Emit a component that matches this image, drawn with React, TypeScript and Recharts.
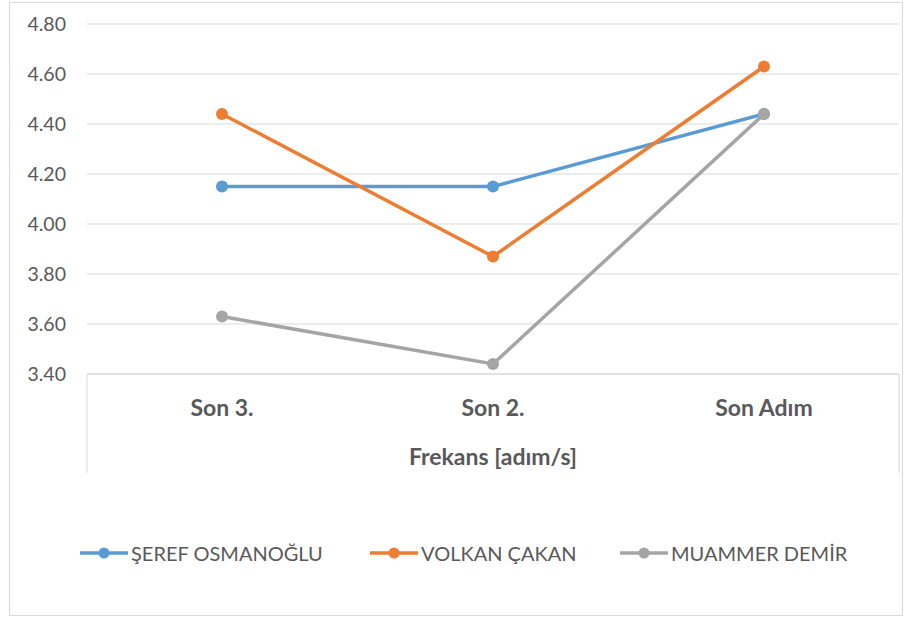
import React from "react";
import {
  LineChart,
  Line,
  XAxis,
  YAxis,
  CartesianGrid,
  Legend,
} from "recharts";

const categories = ["Son 3.", "Son 2.", "Son Adım"];
const seref = [4.15, 4.15, 4.44];
const volkan = [4.44, 3.87, 4.63];
const muammer = [3.63, 3.44, 4.44];
const yTicks = [3.4, 3.6, 3.8, 4.0, 4.2, 4.4, 4.6, 4.8];
const axisTitle = "Frekans [adım/s]";

const series = [
  { key: "seref", name: "ŞEREF OSMANOĞLU", color: "#5B9BD5" },
  { key: "volkan", name: "VOLKAN ÇAKAN", color: "#ED7D31" },
  { key: "muammer", name: "MUAMMER DEMİR", color: "#A5A5A5" },
];

const data = categories.map((cat, i) => ({
  cat,
  seref: seref[i],
  volkan: volkan[i],
  muammer: muammer[i],
}));

const FONT = "Lato, 'Open Sans', sans-serif";
const TEXT = "#595959";
const GRID = "#D9D9D9";
const HALF_BAND = 135;
const BOX_H = 99;
const LEGEND_ITEM_W = [290, 250, 240];

function CatTick(props: any) {
  const { x, y, payload, index, visibleTicksCount } = props;
  return (
    <g>
      <text
        x={x}
        y={y + 33}
        textAnchor="middle"
        dominantBaseline="central"
        fill={TEXT}
        fontSize={23}
        fontWeight="bold"
        fontFamily={FONT}
      >
        {payload.value}
      </text>
      {index === 0 && (
        <line x1={x - HALF_BAND} y1={y} x2={x - HALF_BAND} y2={y + BOX_H} stroke={GRID} />
      )}
      {index === visibleTicksCount - 1 && (
        <line x1={x + HALF_BAND} y1={y} x2={x + HALF_BAND} y2={y + BOX_H} stroke={GRID} />
      )}
    </g>
  );
}

function LegendContent(props: any) {
  const { payload } = props;
  const ordered = series
    .map((s) => payload.find((p: any) => p.dataKey === s.key))
    .filter(Boolean);
  return (
    <div style={{ display: "flex", paddingLeft: 80, height: 30, alignItems: "center" }}>
      {ordered.map((item: any, i: number) => (
        <div
          key={item.value}
          style={{ display: "flex", alignItems: "center", width: LEGEND_ITEM_W[i] }}
        >
          <svg width={48} height={14}>
            <line x1={0} y1={7} x2={48} y2={7} stroke={item.color} strokeWidth={3.5} />
            <circle cx={24} cy={7} r={5.5} fill={item.color} />
          </svg>
          <span
            style={{
              marginLeft: 3,
              fontFamily: FONT,
              fontSize: 20,
              color: TEXT,
            }}
          >
            {item.value}
          </span>
        </div>
      ))}
    </div>
  );
}

export default function App() {
  return (
    <div
      style={{
        position: "absolute",
        left: 0,
        top: 0,
        width: 907,
        height: 621,
        background: "#fff",
      }}
    >
      <div
        style={{
          position: "absolute",
          left: 9,
          top: 2,
          width: 892,
          height: 612,
          border: "1px solid #D9D9D9",
        }}
      />
      <LineChart
        width={907}
        height={621}
        data={data}
        margin={{ top: 24, right: 8, left: 0, bottom: 53 }}
      >
        <CartesianGrid vertical={false} stroke={GRID} />
        <XAxis
          dataKey="cat"
          padding={{ left: HALF_BAND, right: HALF_BAND }}
          height={100}
          interval={0}
          axisLine={{ stroke: GRID }}
          tickLine={false}
          tickSize={0}
          tickMargin={0}
          tick={<CatTick />}
          label={{
            value: axisTitle,
            position: "insideBottom",
            offset: 9,
            fill: TEXT,
            fontSize: 23,
            fontWeight: "bold",
            fontFamily: FONT,
          }}
        />
        <YAxis
          domain={[3.4, 4.8]}
          ticks={yTicks}
          tickFormatter={(v: number) => v.toFixed(2)}
          width={87}
          axisLine={false}
          tickLine={false}
          tickSize={0}
          tickMargin={21}
          tick={{ fill: TEXT, fontSize: 19.5, fontFamily: FONT }}
        />
        <Legend
          verticalAlign="bottom"
          align="left"
          content={<LegendContent />}
          wrapperStyle={{ paddingTop: 64 }}
        />
        {series.map((s) => (
          <Line
            key={s.key}
            dataKey={s.key}
            name={s.name}
            stroke={s.color}
            strokeWidth={3.5}
            dot={{ r: 6, fill: s.color, stroke: s.color, strokeWidth: 0 }}
            activeDot={false}
            isAnimationActive={false}
          />
        ))}
      </LineChart>
    </div>
  );
}
